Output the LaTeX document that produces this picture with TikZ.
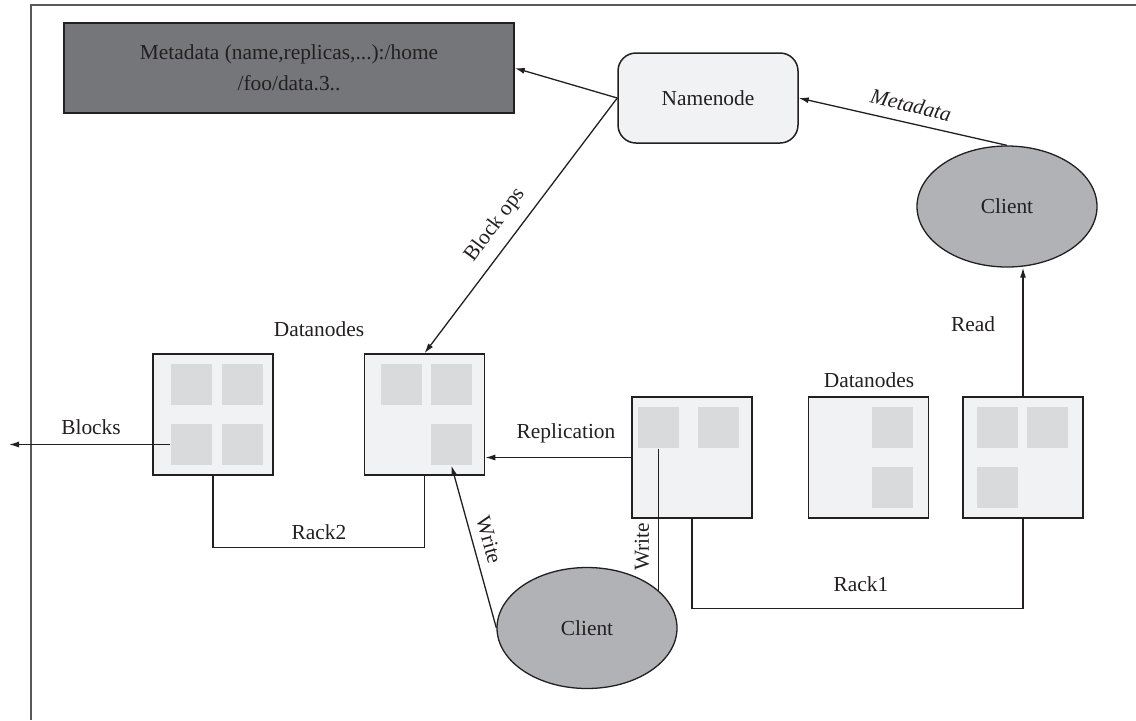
\documentclass[tikz,border=0pt]{standalone}
\usepackage{fontspec}
\setmainfont{Liberation Serif}
\usetikzlibrary{shapes.geometric,arrows.meta,calc}
\definecolor{ink}{HTML}{231F20}
\definecolor{metagray}{HTML}{75767A}
\definecolor{boxgray}{HTML}{F1F2F4}
\definecolor{blkgray}{HTML}{D9DADC}
\definecolor{clgray}{HTML}{B1B2B5}
\definecolor{framegray}{HTML}{58595B}

\begin{document}
\begin{tikzpicture}[x=0.5pt, y=-0.5pt, ink, line width=0.65pt,
    font=\fontsize{10.7}{15.5}\selectfont,
    arr/.style = {-{Latex[length=5pt,width=3pt]}},
    dn/.style = {draw, fill=boxgray, line width=0.75pt, minimum width=60pt, minimum height=60.5pt, inner sep=0pt},
    blk/.style = {fill=blkgray, minimum size=20.5pt, inner sep=0pt},
    client/.style = {draw, ellipse, fill=clgray, minimum width=90pt, minimum height=60.5pt, inner sep=0pt},
    lbl/.style = {inner sep=1pt}]
    \useasboundingbox (0,0) rectangle (1136,720);
    \draw[framegray, line width=1pt] (1136,5) -| (31,720);

    \node[draw, fill=metagray, line width=0.75pt, minimum width=225pt, minimum height=45pt, align=center] (meta) at (289,68) {Metadata (name,replicas,...):/home\\/foo/data.3..};
    \node[draw, fill=boxgray, line width=0.75pt, rounded corners=9pt, minimum width=90pt, minimum height=45pt] (nn) at (708,98) {Namenode};
    \node[client] (c1) at (1007,206.5) {Client};
    \node[client] (c2) at (587,628) {Client};

    \node[dn] (dn1) at (213,414.5) {};
    \node[dn] (dn2) at (424.5,414.5) {};
    \node[dn] (dn3) at (692,457.5) {};
    \node[dn] (dn4) at (868.5,457.5) {};
    \node[dn] (dn5) at (1023,457.5) {};

    \node[blk] (b11) at (191.5,384.5) {};
    \node[blk] (b12) at (242,384.5) {};
    \node[blk] (b13) at (191.5,444.5) {};
    \node[blk] (b14) at (242,444.5) {};
    \node[blk] (b21) at (401.5,384.5) {};
    \node[blk] (b22) at (451.5,384.5) {};
    \node[blk] (b24) at (451.5,444.5) {};
    \node[blk] (b31) at (658.5,427.5) {};
    \node[blk] (b32) at (718.5,427.5) {};
    \node[blk] (b42) at (892.5,427.5) {};
    \node[blk] (b44) at (892.5,487.5) {};
    \node[blk] (b51) at (997.5,427.5) {};
    \node[blk] (b52) at (1047.5,427.5) {};
    \node[blk] (b53) at (997.5,487.5) {};

    \coordinate (out) at (9,444.5);

    \draw[arr] (nn.west) -- (meta.east);
    \draw[arr] (c1.north) -- (nn.east);
    \draw[arr] (nn.west) -- (dn2.north);
    \draw[arr] (b13.west) -- (out);
    \draw[arr] (dn3.west) -- (dn3.west -| dn2.east);
    \draw[arr] (c2.west) -- (b24.south);
    \draw (b31.south) -- (b31.south |- c2.27.5);
    \draw[arr] (dn5.north) -- (dn5.north |- c1.south);
    \draw (dn1.south) -- ++(0,72) -| (dn2.south);
    \draw (dn3.south) -- ++(0,89.5) -| (dn5.south);

    \node[lbl, rotate=-13.2] (lmeta) at (911,105) {\textit{Metadata}};
    \node[lbl, rotate=53.2] (lops) at (495,225) {Block ops};
    \node[lbl] (ldn1) at (319,329) {Datanodes};
    \node[lbl] (ldn2) at (869,380) {Datanodes};
    \node[lbl] (lblk) at (91,427) {Blocks};
    \node[lbl] (lrk2) at (319,532) {Rack2};
    \node[lbl] (lrep) at (566,433) {Replication};
    \node[lbl] (lread) at (973,324) {Read};
    \node[lbl] (lrk1) at (861,584) {Rack1};
    \node[lbl, rotate=-74.4] (lw1) at (489,540) {Write};
    \node[lbl, rotate=90] (lw2) at (642,547) {Write};
\end{tikzpicture}
\end{document}
